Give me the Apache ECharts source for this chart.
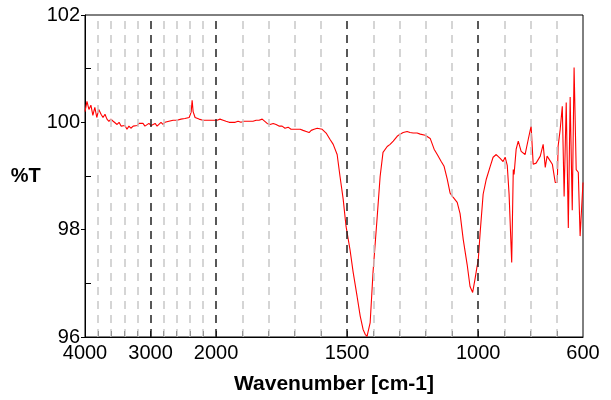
<!DOCTYPE html>
<html>
<head>
<meta charset="utf-8">
<script src="https://cdn.jsdelivr.net/npm/echarts@6/dist/echarts.min.js"></script>
<style>html,body{margin:0;padding:0;background:#fff}#c{width:611px;height:400px}</style>
</head>
<body>
<div id="c"></div>
<script>
// Wavenumbers (cm-1) and %T values
const wavenumbers = [
  4000,3970,3940,3910,3880,3850,3820,3790,3755,3725,3695,3665,3635,3605,3570,3540,3510,3480,3450,3420,
  3390,3360,3330,3300,3265,3235,3205,3175,3145,3115,3085,3055,3025,2990,2960,2930,2900,2870,2840,2810,
  2780,2750,2720,2690,2655,2625,2595,2565,2535,2505,2475,2445,2410,2380,2365,2350,2320,2290,2260,2230,
  2200,2170,2135,2105,2075,2045,2015,
  1996,1985,1973,1962,1950,1939,1927,1916,1905,1893,1882,1870,1859,1847,1836,1824,1817,1805,1794,1782,
  1771,1760,1748,1737,1725,1714,1702,1691,1679,1668,1656,1645,1637,1626,1614,1595,1580,1565,1553,1538,
  1527,1515,1504,1489,1477,1462,1450,1439,1431,1424,1412,1401,1385,1374,1363,1347,1336,1324,1309,1298,
  1286,1271,1260,1248,1233,1221,1202,1183,1168,1156,1141,1130,1118,1107,1095,1080,1069,1057,1042,1031,
  1021,1012,1004,1000,992,981,969,954,943,931,924,916,905,897,889,882,872,866,863,855,
  847,836,832,821,809,798,790,779,763,752,744,737,729,717,706,698,695,687,679,672,
  664,656,649,641,634,626,618,611,600
];
const transmittance = [
  100.20,100.39,100.24,100.32,100.13,100.28,100.09,100.24,100.15,100.09,100.15,100.06,100.02,100.06,100.02,100.04,99.96,100.00,99.93,99.91,
  99.94,99.87,99.93,99.89,99.93,99.96,99.94,99.98,99.96,99.98,99.93,99.96,99.98,99.94,99.93,99.98,99.93,99.96,100.00,99.96,
  100.00,99.98,100.02,100.00,100.04,100.02,100.04,100.06,100.06,100.06,100.07,100.07,100.09,100.19,100.41,100.20,100.09,100.07,100.06,100.06,
  100.04,100.04,100.04,100.06,100.04,100.06,100.04,
  100.04,100.06,100.04,100.02,100.00,100.00,100.00,100.02,100.00,100.02,100.02,100.02,100.02,100.04,100.04,100.06,100.07,99.98,99.96,99.98,
  99.96,99.93,99.93,99.89,99.91,99.87,99.87,99.87,99.87,99.85,99.83,99.81,99.85,99.87,99.89,99.87,99.80,99.68,99.59,99.40,
  98.99,98.57,98.06,97.63,97.21,96.76,96.39,96.14,96.05,96.01,96.27,97.21,98.25,98.99,99.44,99.55,99.59,99.65,99.74,99.78,
  99.81,99.83,99.81,99.80,99.80,99.78,99.76,99.70,99.50,99.40,99.27,99.18,98.94,98.68,98.60,98.51,98.30,97.82,97.35,96.94,
  96.83,97.08,97.32,97.41,97.97,98.66,98.94,99.18,99.35,99.40,99.37,99.33,99.27,99.35,99.20,98.66,97.39,99.12,99.03,99.50,
  99.65,99.46,99.46,99.40,99.68,99.93,99.22,99.24,99.37,99.59,99.16,99.37,99.31,99.22,98.88,98.88,99.55,99.87,100.30,98.62,
  100.37,98.03,100.47,98.36,101.02,99.12,99.07,97.88,98.88
];
const xLabelValues = [4000, 3000, 2000, 1500, 1000, 600];
const gridMajor = [3000, 2000, 1500, 1000];
const gridMinor = [3800,3600,3400,3200,2800,2600,2400,2200,1900,1800,1700,1600,1400,1300,1200,1100,900,800,700];
const yLabelValues = [96, 98, 100, 102];
const yMinorTicks = [97, 99, 101];

// Split wavenumber scale: 4000-2000 compressed 4x relative to 2000-600
function t(w) { return w >= 2000 ? (4000 - w) / 4 : 500 + (2000 - w); }
function inv(v) { return v <= 500 ? 4000 - 4 * v : 2000 - (v - 500); }

const allTicks = gridMinor.concat(gridMajor).map(t);
const markData = gridMinor.map(w => ({xAxis: t(w), lineStyle: {color: '#c8c8c8', type: [8, 6], width: 1.5}}))
  .concat(gridMajor.map(w => ({xAxis: t(w), lineStyle: {color: '#222', type: [8, 6], width: 1.5}})));

const chart = echarts.init(document.getElementById('c'), null, {renderer: 'canvas'});
chart.setOption({
  animation: false,
  grid: {left: 85, right: 28, top: 15, bottom: 63, show: true, borderColor: '#000', borderWidth: 1, backgroundColor: 'transparent'},
  xAxis: {
    type: 'value', min: 0, max: 1900,
    name: 'Wavenumber [cm-1]', nameLocation: 'middle', nameGap: 37,
    nameTextStyle: {fontFamily: 'Liberation Sans', fontWeight: 'bold', fontSize: 21, color: '#000'},
    axisLine: {show: true, onZero: false, lineStyle: {color: '#000', width: 1}},
    axisTick: {show: true, inside: true, length: 6, customValues: allTicks, lineStyle: {color: '#000'}},
    axisLabel: {customValues: xLabelValues.map(t), formatter: v => String(Math.round(inv(v))),
      fontFamily: 'Liberation Sans', fontSize: 20, color: '#000', margin: 6},
    splitLine: {show: false}
  },
  yAxis: [{
    type: 'value', min: 96, max: 102, interval: 2,
    name: '%T', nameLocation: 'middle', nameRotate: 0, nameGap: 43,
    nameTextStyle: {fontFamily: 'Liberation Sans', fontWeight: 'bold', fontSize: 20, color: '#000', align: 'center'},
    axisLine: {show: true, lineStyle: {color: '#000', width: 1}},
    axisTick: {show: true, inside: false, length: 4, customValues: yLabelValues, lineStyle: {color: '#000'}},
    axisLabel: {customValues: yLabelValues, fontFamily: 'Liberation Sans', fontSize: 20, color: '#000', margin: 5},
    splitLine: {show: false}
  }, {
    type: 'value', min: 96, max: 102, position: 'left',
    axisLine: {show: false},
    axisTick: {show: true, inside: true, length: 6, customValues: yMinorTicks, lineStyle: {color: '#000'}},
    axisLabel: {show: false},
    splitLine: {show: false}
  }],
  series: [{
    type: 'line', data: [], z: 1, silent: true,
    markLine: {silent: true, symbol: 'none', label: {show: false}, animation: false, data: markData}
  }, {
    type: 'line', z: 3, showSymbol: false, symbol: 'none',
    lineStyle: {color: '#ff0000', width: 1.1},
    data: wavenumbers.map((w, i) => [t(w), transmittance[i]])
  }]
});
</script>
</body>
</html>
